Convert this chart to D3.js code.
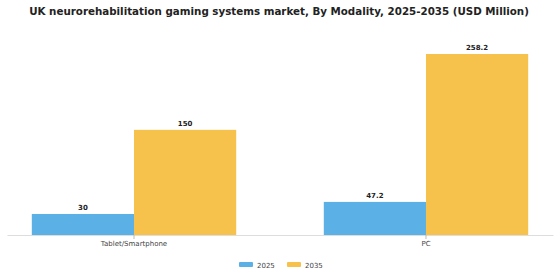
<!DOCTYPE html>
<html><head><meta charset="utf-8">
<script src="https://cdn.jsdelivr.net/npm/d3@7"></script>
<style>html,body{margin:0;padding:0;background:#fff;}svg{display:block;}</style>
</head><body>
<svg id="chart" width="560" height="280"></svg>
<script>
const categories = ["Tablet/Smartphone", "PC"];
const seriesNames = ["2025", "2035"];
const values2025 = [30, 47.2];
const values2035 = [150, 258.2];
const valueLabels2025 = ["30", "47.2"];
const valueLabels2035 = ["150", "258.2"];
const colors = ["#5BB1E6", "#F7C24B"];
const title = "UK neurorehabilitation gaming systems market, By Modality, 2025-2035 (USD Million)";

const svg = d3.select("#chart");
const font = "'DejaVu Sans', sans-serif";
const baseY = 235;

const x = d3.scaleBand().domain(categories).range([7, 553]).paddingInner(0.3).paddingOuter(0.085);
const xs = d3.scaleBand().domain(seriesNames).range([0, x.bandwidth()]);
const y = d3.scaleLinear().domain([0, 258.2]).range([baseY, 54]);

svg.append("text").attr("x", 279).attr("y", 15).attr("text-anchor", "middle")
  .style("font-family", font).style("font-weight", "bold").style("font-size", "10.3px").attr("fill", "#222")
  .text(title);

const data = categories.map((c, i) => ({cat: c, vals: [
  {s: seriesNames[0], v: values2025[i], l: valueLabels2025[i], c: colors[0]},
  {s: seriesNames[1], v: values2035[i], l: valueLabels2035[i], c: colors[1]}]}));

const g = svg.selectAll("g.cat").data(data).join("g").attr("class", "cat")
  .attr("transform", d => `translate(${x(d.cat)},0)`);
g.selectAll("rect").data(d => d.vals).join("rect")
  .attr("x", d => xs(d.s)).attr("width", xs.bandwidth())
  .attr("y", d => y(d.v)).attr("height", d => baseY - y(d.v)).attr("fill", d => d.c);
g.selectAll("text.val").data(d => d.vals).join("text").attr("class", "val")
  .attr("x", d => xs(d.s) + xs.bandwidth() / 2).attr("y", d => y(d.v) - 4)
  .attr("text-anchor", "middle").style("font-family", font).style("font-weight", "bold")
  .style("font-size", "7px").attr("fill", "#222").text(d => d.l);

const axis = d3.axisBottom(x).tickSize(4).tickSizeOuter(0);
const ax = svg.append("g").attr("transform", `translate(0,${baseY})`).call(axis);
ax.select(".domain").attr("stroke", "#ddd");
ax.selectAll(".tick line").attr("stroke", "#bbb");
ax.selectAll(".tick text").style("font-family", font).style("font-size", "7px").attr("fill", "#444").attr("dy", "0.9em").attr("y", 4.5);

const legend = svg.append("g");
const lx = [239, 287];
seriesNames.forEach((s, i) => {
  legend.append("rect").attr("x", lx[i]).attr("y", 262).attr("width", 14).attr("height", 5).attr("rx", 1).attr("fill", colors[i]);
  legend.append("text").attr("x", lx[i] + 18).attr("y", 267.5).style("font-family", font).style("font-size", "7px").attr("fill", "#444").text(s);
});
</script>
</body></html>
